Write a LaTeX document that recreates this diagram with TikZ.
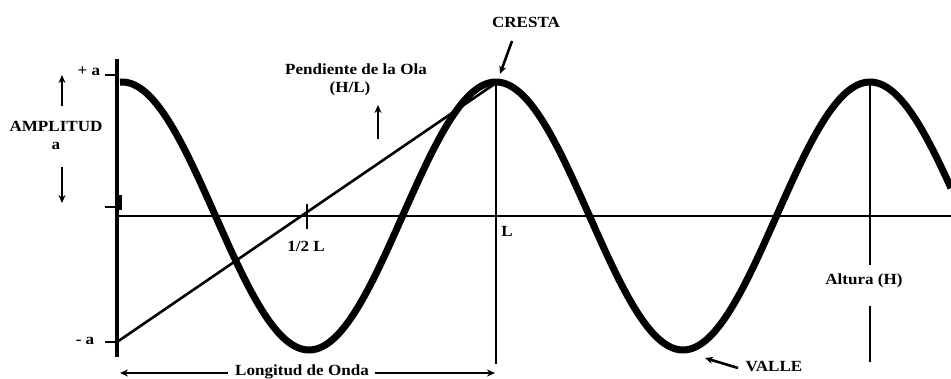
\documentclass[tikz,border=0pt]{standalone}
\usepackage{fontspec}
\setmainfont[FakeStretch=1.1]{Liberation Serif}
\usetikzlibrary{arrows.meta}
\begin{document}
\begin{tikzpicture}[x=1pt,y=-1pt,
  lbl/.style={inner sep=0pt,font=\fontsize{15.5}{17}\selectfont\bfseries},
  axis/.style={line width=2.6pt},
  arr/.style={line width=2.6pt,-{Stealth[length=8pt,width=7pt]}},
  wave/.style={line width=7pt}]
\useasboundingbox (0,0) rectangle (951,379);
% coordinates
\coordinate (vtop) at (117,59);
\coordinate (vbot) at (117,357);
\coordinate (pa) at (117,75);
\coordinate (pal) at (105,75);
\coordinate (z) at (117,207);
\coordinate (zl) at (105,207);
\coordinate (ma) at (117,342);
\coordinate (mal) at (105,342);
\coordinate (hl) at (119,216);
\coordinate (hr) at (951,216);
\coordinate (crest) at (496,83);
\coordinate (Lbot) at (496,364);
\coordinate (ht) at (307,204);
\coordinate (hb) at (307,229);
\coordinate (c3) at (870,83);
\coordinate (c3a) at (870,265);
\coordinate (c3b) at (870,306);
\coordinate (c3c) at (870,362);
% wave
\draw[wave] plot[domain=120:951,samples=300] (\x,{216-134*cos(0.962567*(\x-122))});
% axes
\draw[line width=3.8pt] (vtop) -- (vbot);
\draw[line width=3pt] (120,195) -- (120,210);
\draw[axis] (pal) -- (pa);
\draw[axis] (zl) -- (z);
\draw[axis] (mal) -- (ma);
\draw[axis] (hl) -- (hr);
\draw[axis] (ma) -- (crest);
\draw[line width=2.8pt] (ht) -- (hb);
\draw[line width=2.8pt] (crest) -- (Lbot);
\draw[line width=2.8pt] (c3) -- (c3a);
\draw[line width=2.8pt] (c3b) -- (c3c);
% labels
\node[lbl] (plusa) at (89,71) {+ a};
\node[lbl] (minusa) at (85,341) {- a};
\node[lbl] (ampl) at (56,126) {AMPLITUD};
\node[lbl] (ampa) at (56,146) {a};
\node[lbl] (pend) at (356,69) {Pendiente de la Ola};
\node[lbl] (hl2) at (350,89) {(H/L)};
\node[lbl] (cresta) at (526,22) {CRESTA};
\node[lbl] (half) at (306,246) {1/2 L};
\node[lbl] (Lab) at (507,231) {L};
\node[lbl] (alt) at (864,281) {Altura (H)};
\node[lbl] (valle) at (774,367) {VALLE};
\node[lbl] (long) at (302,372) {Longitud de Onda};
% arrows
\coordinate (u1s) at (62,106); \coordinate (u1e) at (62,75);
\coordinate (d1s) at (62,167); \coordinate (d1e) at (62,203);
\coordinate (u2s) at (378,139); \coordinate (u2e) at (378,105);
\coordinate (cre) at (500,74);
\coordinate (vae) at (705,358);
\coordinate (lle) at (120,373);
\coordinate (lre) at (495,373);
\draw[arr] (u1s) -- (u1e);
\draw[arr] (d1s) -- (d1e);
\draw[arr] (u2s) -- (u2e);
\draw[arr] (512,41) -- (cre);
\draw[arr] (738,368) -- (vae);
\draw[arr] (long.west) ++(-7,1) -- (lle);
\draw[arr] (long.east) ++(6,1) -- (lre);
\end{tikzpicture}
\end{document}
